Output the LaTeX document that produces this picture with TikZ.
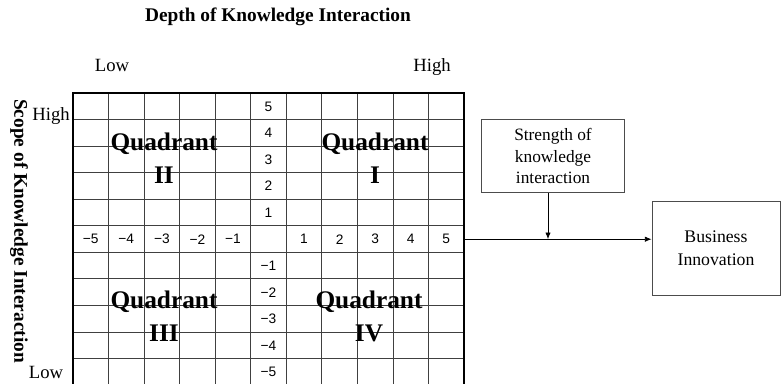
\documentclass[tikz,border=0pt]{standalone}
\usepackage{fontspec}
\setmainfont{Liberation Serif}
\setsansfont{Liberation Sans}
\usetikzlibrary{positioning,calc,arrows.meta}

\begin{document}
\begin{tikzpicture}[x=0.75pt,y=-0.75pt,
	gridline/.style={line width=0.6pt,black!75},
	quad/.style={font=\bfseries\fontsize{19}{25}\selectfont,align=center},
	num/.style={font=\sffamily\fontsize{10.3}{12}\selectfont},
	axlabel/.style={font=\fontsize{14}{16}\selectfont,anchor=base},
	box/.style={draw=black!70,line width=0.6pt,align=center,inner sep=0pt},
	arr/.style={-{Latex[length=5pt,width=4pt]},line width=0.6pt}]
	\useasboundingbox (0,0) rectangle (781,383);
	
	% grid
	\foreach \i in {1,...,10} {
		\draw[gridline] (73+\i*35.55,93) -- (73+\i*35.55,385);
		\draw[gridline] (73,93+\i*26.55) -- (464,93+\i*26.55);
	}
	\draw[line width=1.6pt] (73,93) rectangle (464,385);
	\coordinate (gridE) at (464,239.2);
	
	% axis numbers
	\foreach \k in {1,...,5} {
		\node[num] (xp\k) at (268.5+\k*35.55,239.2) {\k};
		\node[num] (xm\k) at (268.5-\k*35.55,239.2) {−\k};
		\node[num] (yp\k) at (268.5,239.2-\k*26.55) {\k};
		\node[num] (ym\k) at (268.5,239.2+\k*26.55) {−\k};
	}
	
	% quadrants
	\node[quad] (q1) at (375,158) {Quadrant\\I};
	\node[quad] (q2) at (164,158) {Quadrant\\II};
	\node[quad] (q3) at (164,316.5) {Quadrant\\III};
	\node[quad] (q4) at (369,316.5) {Quadrant\\IV};
	
	% axis titles
	\node[font=\bfseries\fontsize{14.5}{17}\selectfont] (depth) at (278,17) {Depth of Knowledge Interaction};
	\node[rotate=-90,font=\bfseries\fontsize{14.5}{17}\selectfont] (scope) at (19,231) {Scope of Knowledge Interaction};
	\node[axlabel] (dlow) at (112,71) {Low};
	\node[axlabel] (dhigh) at (432,71) {High};
	\node[axlabel] (shigh) at (51,120) {High};
	\node[axlabel] (slow) at (46,378) {Low};
	
	% boxes
	\node[box,minimum width=107pt,minimum height=55pt,font=\fontsize{13}{15.8}\selectfont] (strength) at (553,156) {Strength of\\knowledge\\interaction};
	\node[box,minimum width=96pt,minimum height=70pt,font=\fontsize{13.3}{17}\selectfont] (business) at (716,248.5) {Business\\Innovation};
	
	\coordinate (meet) at (548,239.2);
	\draw[arr] (gridE) -- (gridE -| business.west);
	\draw[arr] (strength.south -| meet) -- (meet);
\end{tikzpicture}
\end{document}
